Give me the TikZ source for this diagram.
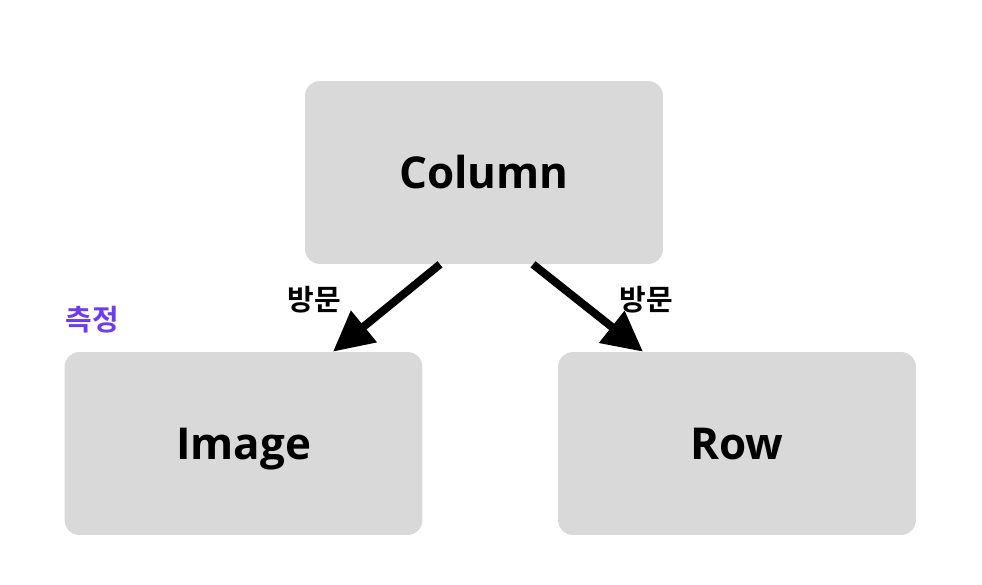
\documentclass[tikz,border=0pt]{standalone}
\usepackage{fontspec}
\setmainfont{Open Sans}
\newfontfamily\kofont{Noto Sans CJK KR}[BoldFont={Noto Sans CJK KR Bold}]
\usepackage{xcolor}
\usetikzlibrary{arrows.meta,positioning}
\definecolor{boxgray}{HTML}{D9D9D9}
\definecolor{notepurple}{HTML}{6C3CF0}

\begin{document}
\begin{tikzpicture}[
  x=0.02cm, y=-0.02cm,
  box/.style={fill=boxgray, rounded corners=0.3cm, align=center, minimum width=7.16cm, minimum height=3.66cm, text height=18pt, text depth=0pt, font=\bfseries\fontsize{25}{30}\selectfont},
  arrow/.style={-{Triangle[length=0.8cm, width=0.78cm]}, line width=0.16cm},
  edgelabel/.style={font=\kofont\bfseries\fontsize{16.5}{19}\selectfont}
]
  \useasboundingbox (0,0) rectangle (982,584);
  \node[box] (column) at (484,172.5) {Column};
  \node[box] (image) at (243.5,443.5) {Image};
  \node[box] (row) at (737,443.5) {Row};

  \draw[arrow] ([xshift=-0.88cm]column.south) -- ([xshift=1.79cm]image.north);
  \draw[arrow] ([xshift=0.98cm]column.south) -- ([xshift=-1.88cm]row.north);

  \node[edgelabel] (visitleft) at (314,300) {방문};
  \node[edgelabel] (visitright) at (646,300) {방문};
  \node[edgelabel, text=notepurple] (measure) at (92,320) {측정};
\end{tikzpicture}
\end{document}
